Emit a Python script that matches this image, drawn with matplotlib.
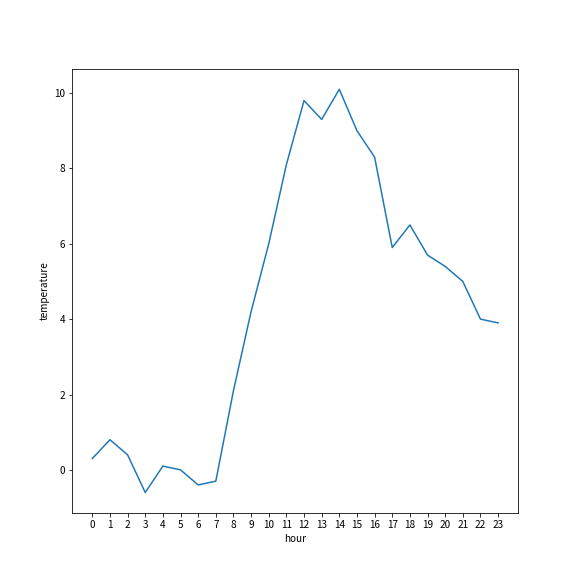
import matplotlib
matplotlib.use("Agg")
import matplotlib.pyplot as plt

plt.rcParams['font.family'] = ['Noto Sans CJK JP', 'DejaVu Sans']

hours = list(range(24))
temperature = [0.3, 0.8, 0.4, -0.6, 0.1, 0.0, -0.4, -0.3, 2.1, 4.2, 6.0, 8.1,
               9.8, 9.3, 10.1, 9.0, 8.3, 5.9, 6.5, 5.7, 5.4, 5.0, 4.0, 3.9]

fig, ax = plt.subplots(figsize=(8, 8), dpi=72)
ax.plot(hours, temperature)
ax.set_xticks(hours)
ax.set_xlabel("hour")
ax.set_ylabel("temperature")
fig.savefig("out.png")
